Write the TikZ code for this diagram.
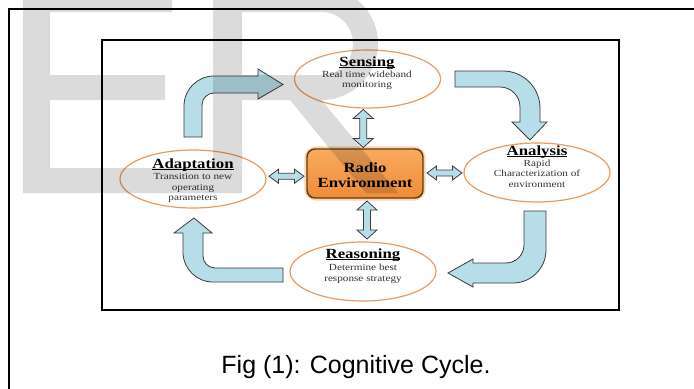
\documentclass[tikz,border=0pt]{standalone}
\usepackage{fontspec}
\setmainfont{Liberation Serif}
\newfontfamily\diagfont[FakeStretch=1.2]{Liberation Serif}
\newfontfamily\capfont{Liberation Sans}
\usetikzlibrary{calc,shapes.geometric}
\definecolor{arrowblue}{HTML}{B7DEE8}
\definecolor{arrowline}{HTML}{3C3C3C}
\definecolor{ellorange}{HTML}{EC9A5C}
\definecolor{boxtop}{HTML}{F9AA5E}
\definecolor{boxbot}{HTML}{EF8C38}
\definecolor{boxline}{HTML}{5A3B1C}
\definecolor{glowc}{HTML}{FBD5AA}
\definecolor{bodygray}{HTML}{333333}
\newcommand\ulword[1]{\setbox0\hbox{#1}\rlap{\rule[-1.4pt]{\wd0}{0.8pt}}\box0}
\begin{document}
\begin{tikzpicture}[x=0.75pt,y=-0.75pt,
  ell/.style={shape=ellipse, draw=ellorange, line width=0.9pt, inner sep=0pt, outer sep=0pt,
    minimum width=109.5pt, minimum height=43.5pt},
  titletext/.style={font=\diagfont\fontsize{10.5}{12}\selectfont\bfseries, anchor=base, inner sep=0pt},
  bodytext/.style={font=\diagfont\fontsize{7}{8}\selectfont, text=bodygray, anchor=base, inner sep=0pt},
  radiotext/.style={font=\diagfont\fontsize{10.5}{12}\selectfont\bfseries, anchor=base, inner sep=0pt},
  blockarrow/.style={fill=arrowblue, draw=arrowline, line width=0.6pt, line join=miter},
  vdbl/.pic={\draw[blockarrow] (0,-19) -- (10,-10) -- (3.5,-10) -- (3.5,10) -- (10,10) -- (0,19)
      -- (-10,10) -- (-3.5,10) -- (-3.5,-10) -- (-10,-10) -- cycle;},
  hdbl/.pic={\draw[blockarrow] (-17.5,0) -- (-8,-7) -- (-8,-3) -- (8,-3) -- (8,-7) -- (17.5,0)
      -- (8,7) -- (8,3) -- (-8,3) -- (-8,7) -- cycle;}
]
\useasboundingbox (0,0) rectangle (694,389);
\fill[white] (0,0) rectangle (694,389);

% frames
\draw[line width=1.1pt] (9,390) -- (9,9) -- (695,9);
\draw[line width=1.9pt] (102,40) rectangle (619,310);

% curved block arrows
\draw[blockarrow] (184,137) -- (184,106) .. controls (184,89.4) and (197.4,76) .. (214,76)
  -- (258,76) -- (258,69) -- (283,84.5) -- (258,99) -- (258,93) -- (214,93)
  .. controls (207.4,93) and (202,98.4) .. (202,105) -- (202,137) -- cycle;
\draw[blockarrow] (455,71) -- (503,71) .. controls (523.4,71) and (540,87.6) .. (540,108)
  -- (540,122) -- (547,122) -- (530,140) -- (512,122) -- (520,122) -- (520,107)
  .. controls (520,96) and (511,87) .. (500,87) -- (455,87) -- cycle;
\draw[blockarrow] (524,211) -- (546,211) -- (546,250) .. controls (546,268.2) and (531.2,283) .. (513,283)
  -- (473,283) -- (473,287) -- (448,273) -- (473,259) -- (473,263) -- (506,263)
  .. controls (515.9,263) and (524,254.9) .. (524,245) -- cycle;
\draw[blockarrow] (283,268) -- (283,282) -- (213,282) .. controls (196.4,282) and (183,268.6) .. (183,252)
  -- (183,233) -- (174,233) -- (194,218) -- (212,233) -- (203,233) -- (203,256)
  .. controls (203,262.6) and (208.4,268) .. (215,268) -- cycle;

% ellipses
\node[ell] (sens) at (367.5,79) {};
\node[ell] (adap) at (193,179) {};
\node[ell, minimum height=44.25pt] (anal) at (537,172.5) {};
\node[ell, minimum height=44.25pt] (reas) at (363,271.5) {};

% radio environment box
\node[rounded corners=7pt, draw=glowc, line width=4pt, minimum width=87pt, minimum height=36.75pt,
  inner sep=0pt, outer sep=0pt] (radioglow) at (365,173.5) {};
\node[rounded corners=6pt, draw=boxline, line width=1.1pt, top color=boxtop, bottom color=boxbot,
  minimum width=87pt, minimum height=36.75pt, inner sep=0pt, outer sep=0pt] (radio) at (365,173.5) {};
\node[radiotext] (radioA) at (365,172) {Radio};
\node[radiotext] (radioB) at (365,187) {Environment};

% double arrows
\pic at ($(sens.south)!0.5!(radio.north)+(-3,0)$) {vdbl};
\pic at ($(radio.south)!0.5!(reas.north)+(3,0)$) {vdbl};
\pic at ($(adap.east)!0.5!(radio.west)$) {hdbl};
\pic at ($(radio.east)!0.5!(anal.west)+(1,0)$) {hdbl};

% texts
\node[titletext] (sensT) at (367,66.5) {\ulword{Sensing}};
\node[bodytext] (sensB1) at (367,77.5) {Real time wideband};
\node[bodytext] (sensB2) at (367,87.5) {monitoring};

\node[titletext] (adapT) at (193,168) {\ulword{Adaptation}};
\node[bodytext] (adapB1) at (193,179.5) {Transition to new};
\node[bodytext] (adapB2) at (193,190) {operating};
\node[bodytext] (adapB3) at (193,200.5) {parameters};

\node[titletext] (analT) at (537,155) {\ulword{Analysis}};
\node[bodytext] (analB1) at (537,166) {Rapid};
\node[bodytext] (analB2) at (537,176.5) {Characterization of};
\node[bodytext] (analB3) at (537,187) {environment};

\node[titletext] (reasT) at (363,258) {\ulword{Reasoning}};
\node[bodytext] (reasB1) at (363,270.5) {Determine best};
\node[bodytext] (reasB2) at (363,281) {response strategy};

% caption
\node[font=\capfont\fontsize{18.75}{22}\selectfont, anchor=base, inner sep=0pt] (caption) at (356,373) {Fig (1): Cognitive Cycle.};

% watermark
\fill[black, fill opacity=0.14, even odd rule]
  (23,-13) -- (172,-13) -- (172,12) -- (50,12) -- (50,75) -- (165,75) -- (165,100) -- (50,100)
  -- (50,168) -- (213,168) -- (213,193) -- (23,193) -- cycle
  (213,-13) -- (321.5,-13) .. controls (352.7,-13) and (378,12.3) .. (378,43.5)
  .. controls (378,74.7) and (352.7,100) .. (321.5,100) -- (398,193) -- (366,193) -- (290,100)
  -- (242,100) -- (242,193) -- (213,193) -- cycle
  (242,12) -- (321.5,12) .. controls (338.9,12) and (353,26.1) .. (353,43.5)
  .. controls (353,60.9) and (338.9,75) .. (321.5,75) -- (242,75) -- cycle;
\end{tikzpicture}
\end{document}
